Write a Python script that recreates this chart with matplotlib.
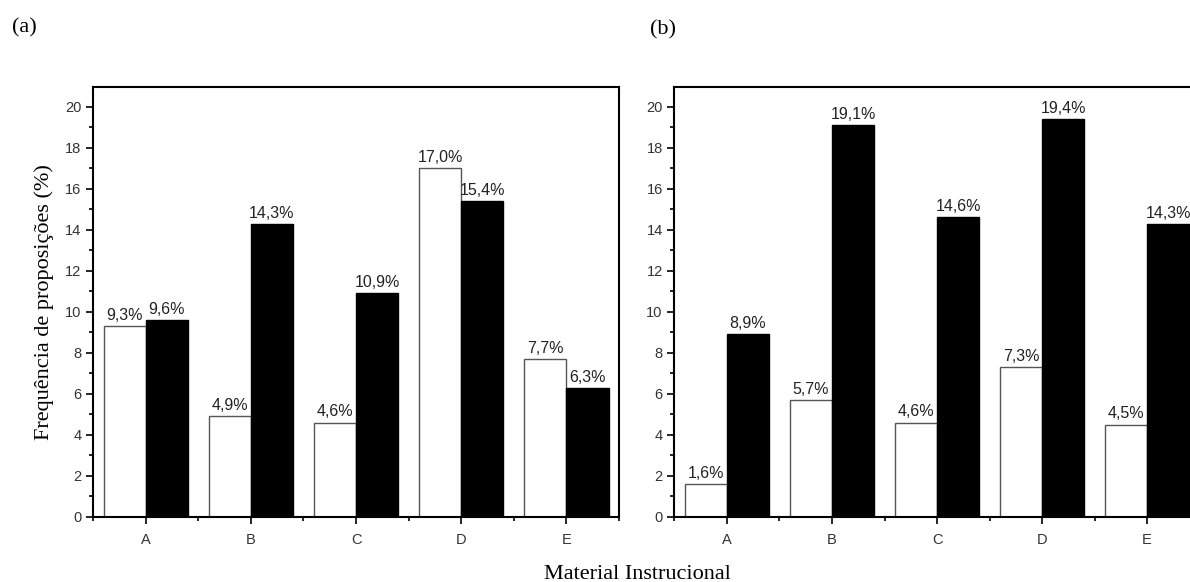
import numpy as np
import matplotlib
matplotlib.use("Agg")
import matplotlib.pyplot as plt
from matplotlib.ticker import MultipleLocator, FixedLocator

# Data
categories = ["A", "B", "C", "D", "E"]
a_white = [9.3, 4.9, 4.6, 17.0, 7.7]
a_black = [9.6, 14.3, 10.9, 15.4, 6.3]
b_white = [1.6, 5.7, 4.6, 7.3, 4.5]
b_black = [8.9, 19.1, 14.6, 19.4, 14.3]
y_ticks = [0, 2, 4, 6, 8, 10, 12, 14, 16, 18, 20]

plt.rcParams['font.family'] = ['Liberation Sans', 'DejaVu Sans']
SERIF = ['Liberation Serif', 'DejaVu Serif']

fig = plt.figure(figsize=(11.9, 5.82), dpi=100)


def draw_panel(ax, white, black):
    x = np.arange(len(categories))
    w = 0.4
    ax.bar(x - w / 2, white, width=w, color='white', edgecolor='#555555', linewidth=1.0)
    ax.bar(x + w / 2, black, width=w, color='black', edgecolor='black', linewidth=1.0)
    # value labels, decimal comma
    for xi, v in zip(x, white):
        ax.text(xi - w / 2, v + 0.15, f"{v:.1f}%".replace(".", ","), ha='center', va='bottom',
                fontsize=11.5, color='#222222')
    for xi, v in zip(x, black):
        ax.text(xi + w / 2, v + 0.15, f"{v:.1f}%".replace(".", ","), ha='center', va='bottom',
                fontsize=11.5, color='#222222')

    ax.set_xlim(-0.5, 4.5)
    ax.set_ylim(0, 20.95)
    ax.set_xticks(x)
    ax.set_xticklabels(categories)
    ax.xaxis.set_minor_locator(FixedLocator(np.arange(-0.5, 4.6, 1.0)))
    ax.set_yticks(y_ticks)
    ax.yaxis.set_minor_locator(MultipleLocator(1))

    ax.tick_params(axis='both', which='major', direction='out', length=5, width=1.2, labelsize=10.5,
                   colors='black', labelcolor='#333333', top=False, right=False)
    ax.tick_params(axis='both', which='minor', direction='out', length=3, width=1.2, top=False, right=False)
    ax.tick_params(axis='x', which='major', pad=7)
    for s in ax.spines.values():
        s.set_linewidth(1.5)


ax1 = fig.add_axes([0.0782, 0.112, 0.4420, 0.738])
draw_panel(ax1, a_white, a_black)

# right panel runs past the figure edge, as in the original
ax2 = fig.add_axes([0.5668, 0.112, 0.4412, 0.738])
draw_panel(ax2, b_white, b_black)

ax1.set_ylabel("Frequência de proposições (%)", family=SERIF, fontsize=16, labelpad=8)
fig.text(0.536, 0.006, "Material Instrucional", family=SERIF, fontsize=16, ha='center', va='baseline')
fig.text(0.010, 0.968, "(a)", family=SERIF, fontsize=16, ha='left', va='top')
fig.text(0.546, 0.965, "(b)", family=SERIF, fontsize=16, ha='left', va='top')

fig.savefig("out.png", dpi=100)
